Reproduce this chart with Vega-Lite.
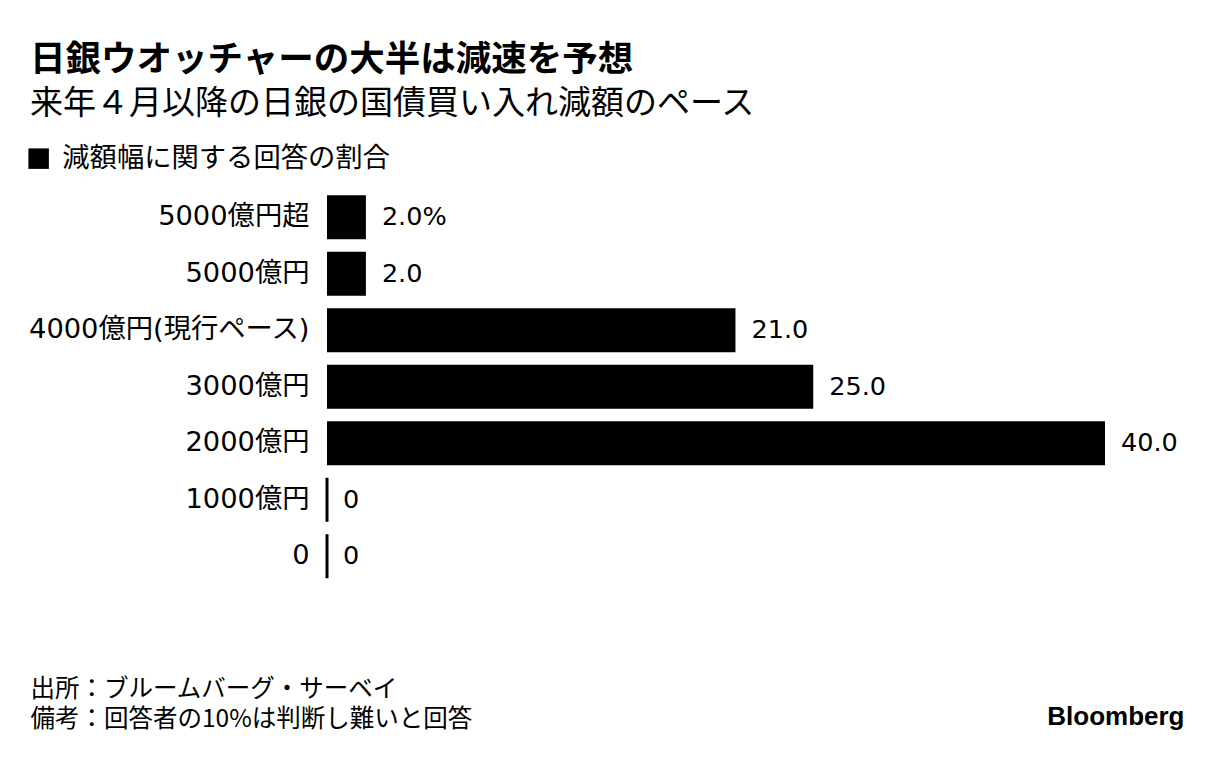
{
  "$schema": "https://vega.github.io/schema/vega-lite/v6.json",
  "width": 778,
  "height": 395.5,
  "autosize": {"type": "none"},
  "padding": {"left": 327, "top": 189, "right": 118, "bottom": 175.5},
  "background": "white",
  "config": {
    "view": {"stroke": null},
    "font": "DejaVu Sans, Noto Sans CJK JP"
  },
  "title": {
    "text": "日銀ウオッチャーの大半は減速を予想",
    "subtitle": "来年４月以降の日銀の国債買い入れ減額のペース",
    "anchor": "start",
    "frame": "group",
    "dx": -297,
    "offset": 24,
    "font": "Noto Sans CJK JP",
    "fontSize": 35.5,
    "fontWeight": "bold",
    "color": "#000000",
    "subtitleFont": "Noto Sans CJK JP",
    "subtitleFontSize": 33,
    "subtitleColor": "#000000",
    "subtitlePadding": 10
  },
  "data": {
    "values": [
      {"cat": "5000億円超", "value": 2, "label": "2.0%", "series": "減額幅に関する回答の割合"},
      {"cat": "5000億円", "value": 2, "label": "2.0", "series": "減額幅に関する回答の割合"},
      {"cat": "4000億円(現行ペース)", "value": 21, "label": "21.0", "series": "減額幅に関する回答の割合"},
      {"cat": "3000億円", "value": 25, "label": "25.0", "series": "減額幅に関する回答の割合"},
      {"cat": "2000億円", "value": 40, "label": "40.0", "series": "減額幅に関する回答の割合"},
      {"cat": "1000億円", "value": 0, "label": "0", "series": "減額幅に関する回答の割合"},
      {"cat": "0", "value": 0, "label": "0", "series": "減額幅に関する回答の割合"}
    ]
  },
  "layer": [
    {
      "mark": {"type": "bar"},
      "encoding": {
        "y": {
          "field": "cat",
          "type": "nominal",
          "sort": null,
          "scale": {"paddingInner": 0.22, "paddingOuter": 0.11},
          "axis": {
            "title": null,
            "ticks": false,
            "domain": false,
            "labelFont": "DejaVu Sans, Noto Sans CJK JP",
            "labelFontSize": 27.3,
            "labelPadding": 18,
            "labelColor": "#000000",
            "labelLimit": 400
          }
        },
        "x": {
          "field": "value",
          "type": "quantitative",
          "scale": {"domain": [0, 40]},
          "axis": {
            "labels": false,
            "ticks": false,
            "domain": false,
            "grid": false,
            "title": ["出所：ブルームバーグ・サーベイ", "備考：回答者の10%は判断し難いと回答"],
            "titleFont": "Noto Sans CJK JP",
            "titleFontSize": 24.5,
            "titleFontWeight": "normal",
            "titleColor": "#000000",
            "titleAlign": "left",
            "titleBaseline": "top",
            "titleAngle": 0,
            "titleX": -297,
            "titleY": 93,
            "titleLineHeight": 29.5
          }
        },
        "color": {
          "field": "series",
          "type": "nominal",
          "scale": {"range": ["#000000"]},
          "legend": {
            "title": null,
            "orient": "none",
            "legendX": -302,
            "legendY": -44,
            "padding": 0,
            "symbolType": "square",
            "symbolSize": 420,
            "symbolStrokeWidth": 0,
            "symbolFillColor": "#000000",
            "labelFont": "Noto Sans CJK JP",
            "labelFontSize": 27.3,
            "labelColor": "#000000",
            "labelOffset": 10,
            "labelLimit": 500
          }
        }
      }
    },
    {
      "transform": [{"filter": "datum.value == 0"}],
      "mark": {"type": "tick", "color": "#000000", "opacity": 1, "thickness": 3, "size": 44},
      "encoding": {
        "y": {"field": "cat", "type": "nominal", "sort": null, "axis": null},
        "x": {"field": "value", "type": "quantitative"}
      }
    },
    {
      "mark": {"type": "text", "align": "left", "baseline": "middle", "dx": 16, "font": "DejaVu Sans", "fontSize": 25.5, "color": "#000000"},
      "encoding": {
        "y": {
          "field": "cat",
          "type": "nominal",
          "sort": null,
          "axis": {
            "orient": "right",
            "labels": false,
            "ticks": false,
            "domain": false,
            "grid": false,
            "title": "Bloomberg",
            "titleFont": "Liberation Sans",
            "titleFontSize": 26,
            "titleFontWeight": "bold",
            "titleColor": "#000000",
            "titleAngle": 0,
            "titleAlign": "right",
            "titleBaseline": "middle",
            "titleX": 79,
            "titleY": 527
          }
        },
        "x": {"field": "value", "type": "quantitative"},
        "text": {"field": "label"}
      }
    }
  ],
  "resolve": {"axis": {"y": "independent"}}
}
